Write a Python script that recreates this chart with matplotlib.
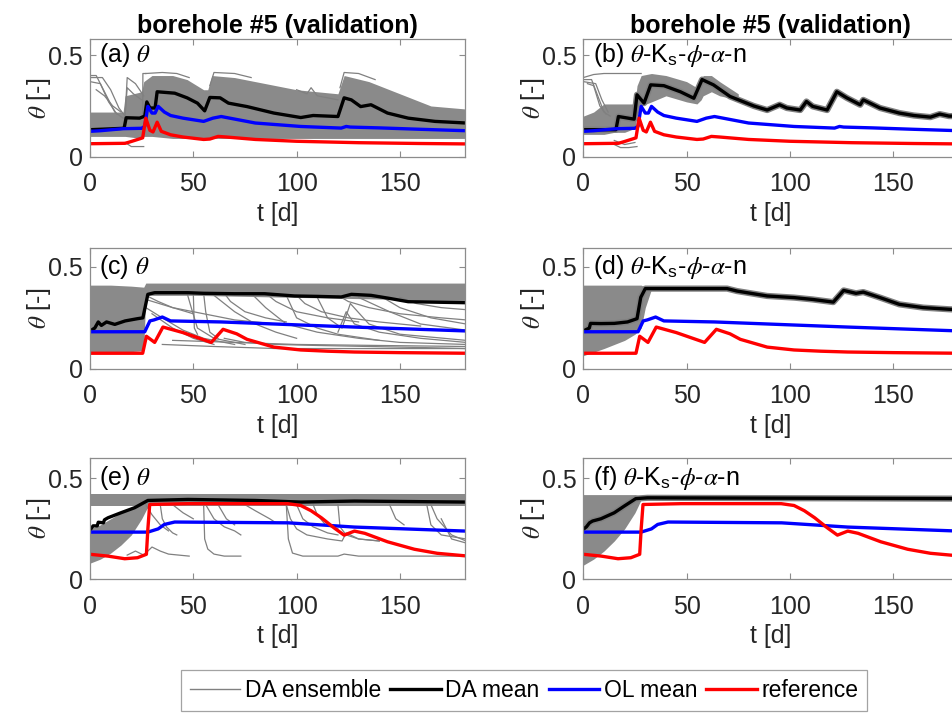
import numpy as np
import matplotlib
matplotlib.use('Agg')
import matplotlib.pyplot as plt

plt.rcParams['font.family'] = ['Liberation Sans', 'DejaVu Sans']
plt.rcParams['mathtext.fontset'] = 'stix'

# ---------------- row 1 (shared reference / open loop) ----------------
t_ref1 = [0, 17, 20, 24, 25.5, 27, 29, 30.5, 32.5, 34.5, 39, 45, 55, 58, 62, 66, 80, 100, 130, 160, 182]
ref1 = [0.064, 0.066, 0.075, 0.088, 0.093, 0.19, 0.13, 0.122, 0.17, 0.125, 0.108, 0.097, 0.085, 0.087, 0.1, 0.097, 0.085, 0.076, 0.069, 0.065, 0.063]
t_ol1 = [0, 5, 16, 25, 26.5, 28, 30, 31.5, 33, 36, 39, 45, 55, 59.5, 63.5, 80, 102, 121.6, 124, 126, 140, 160, 182]
ol1 = [0.125, 0.128, 0.138, 0.14, 0.15, 0.248, 0.215, 0.215, 0.248, 0.22, 0.203, 0.19, 0.174, 0.19, 0.198, 0.166, 0.149, 0.141, 0.149, 0.146, 0.142, 0.135, 0.128]

# panel (a)
t_da_a = [0, 16.5, 17.5, 24, 26.5, 27.5, 29, 31.5, 32.5, 41, 47, 52, 55.5, 58, 63, 67, 76, 89, 102, 108, 120, 123, 126.5, 131, 136, 144, 154, 167, 182]
da_a = [0.133, 0.14, 0.192, 0.19, 0.2, 0.27, 0.24, 0.24, 0.32, 0.313, 0.29, 0.264, 0.226, 0.292, 0.29, 0.264, 0.247, 0.215, 0.193, 0.203, 0.198, 0.29, 0.28, 0.247, 0.256, 0.215, 0.19, 0.174, 0.166]
band_a_t = [0, 16, 17, 25, 26, 30, 40, 47, 55, 57, 59, 70, 80, 100, 110, 120, 121, 123, 135, 150, 165, 182]
band_a_hi = [0.22, 0.22, 0.30, 0.32, 0.37, 0.40, 0.40, 0.38, 0.33, 0.33, 0.40, 0.39, 0.37, 0.33, 0.32, 0.31, 0.34, 0.40, 0.37, 0.31, 0.25, 0.235]
band_a_lo = [0.10, 0.10, 0.10, 0.09, 0.10, 0.10, 0.09, 0.09, 0.09, 0.09, 0.09, 0.09, 0.09, 0.09, 0.09, 0.09, 0.09, 0.09, 0.09, 0.09, 0.09, 0.09]
ens_a = [
    ([0, 6, 10, 14, 17], [0.39, 0.39, 0.33, 0.24, 0.2]),
    ([0, 3, 8, 12, 16], [0.40, 0.40, 0.30, 0.22, 0.19]),
    ([0, 5, 9, 13], [0.37, 0.36, 0.27, 0.21]),
    ([3, 7, 11, 15], [0.33, 0.3, 0.25, 0.22]),
    ([17, 18, 22, 26], [0.2, 0.39, 0.36, 0.30]),
    ([17, 18, 21, 25], [0.21, 0.34, 0.31, 0.28]),
    ([17, 20, 26], [0.07, 0.05, 0.05]),
    ([25.5, 25.6, 27], [0.2, 0.41, 0.41]),
    ([27, 35, 42, 48], [0.41, 0.415, 0.41, 0.39]),
    ([58, 60, 70, 78], [0.35, 0.415, 0.41, 0.39]),
    ([100, 105, 107, 110, 120], [0.33, 0.31, 0.34, 0.30, 0.28]),
    ([121, 123, 130, 138], [0.34, 0.415, 0.41, 0.38]),
]

# panel (b)
t_da_b = [0, 15.8, 17, 24.6, 26, 29.4, 32.6, 39, 47, 53.5, 57.5, 63, 71, 82.5, 89, 95, 98.5, 105, 108, 111, 118, 122.7, 127.5, 134, 135.5, 143.6, 153, 160, 168, 172.5, 177, 182]
da_b = [0.133, 0.133, 0.198, 0.185, 0.305, 0.264, 0.354, 0.35, 0.32, 0.288, 0.38, 0.354, 0.297, 0.25, 0.23, 0.256, 0.24, 0.23, 0.272, 0.248, 0.23, 0.32, 0.29, 0.256, 0.28, 0.24, 0.215, 0.203, 0.195, 0.21, 0.2, 0.2]
band_b_t = [0, 5, 10, 15, 20, 25, 26, 28, 33, 40, 50, 55, 57, 58, 62, 66, 75]
band_b_hi = [0.2, 0.22, 0.26, 0.26, 0.26, 0.26, 0.35, 0.40, 0.41, 0.40, 0.37, 0.34, 0.35, 0.40, 0.40, 0.37, 0.31]
band_b_lo = [0.11, 0.11, 0.11, 0.12, 0.12, 0.14, 0.2, 0.25, 0.27, 0.3, 0.27, 0.26, 0.28, 0.3, 0.32, 0.3, 0.28]
ens_b = [
    ([0, 5, 10, 28], [0.39, 0.405, 0.41, 0.41]),
    ([0, 4, 7, 10, 13], [0.38, 0.38, 0.3, 0.22, 0.2]),
    ([0, 6, 9, 12], [0.37, 0.36, 0.28, 0.22]),
    ([2, 5, 8, 11], [0.36, 0.35, 0.25, 0.21]),
    ([15, 18, 22, 26], [0.06, 0.045, 0.045, 0.05]),
    ([15, 20, 25], [0.08, 0.06, 0.07]),
]

# ---------------- row 2 ----------------
t_ref2 = [0, 25.5, 27.3, 31.3, 35.3, 45, 58.7, 64.4, 71, 76, 89, 102, 115, 128, 150, 182]
ref2 = [0.077, 0.077, 0.16, 0.13, 0.205, 0.178, 0.13, 0.194, 0.172, 0.145, 0.107, 0.093, 0.087, 0.083, 0.08, 0.077]
t_ol2 = [0, 26.5, 29, 31, 35, 39, 63.5, 102, 128, 182]
ol2 = [0.182, 0.182, 0.235, 0.24, 0.254, 0.235, 0.23, 0.215, 0.205, 0.186]

# panel (c)
t_da_c = [0, 2.3, 4, 5.5, 8, 12, 17, 23, 25.6, 28, 31.3, 47.4, 55, 70, 84.5, 99, 110, 121.6, 126.5, 136, 145, 154, 165, 182]
da_c = [0.186, 0.2, 0.23, 0.213, 0.23, 0.218, 0.235, 0.246, 0.25, 0.365, 0.373, 0.373, 0.37, 0.368, 0.368, 0.357, 0.355, 0.352, 0.365, 0.36, 0.345, 0.329, 0.327, 0.324]
band_c_t = [0, 10, 20, 26, 27, 50, 100, 150, 182]
band_c_hi = [0.41, 0.41, 0.405, 0.40, 0.42, 0.42, 0.42, 0.42, 0.42]
band_c_lo = [0.08, 0.08, 0.085, 0.09, 0.36, 0.36, 0.35, 0.34, 0.32]
ens_c = [
    ([27, 35, 45, 55, 70], [0.30, 0.25, 0.19, 0.15, 0.12]),
    ([30, 40, 50, 60], [0.27, 0.2, 0.15, 0.12]),
    ([47, 49, 52, 60, 75], [0.37, 0.30, 0.2, 0.15, 0.12]),
    ([55, 56, 58, 62], [0.37, 0.28, 0.18, 0.15]),
    ([60, 70, 80, 90, 100], [0.36, 0.28, 0.22, 0.18, 0.15]),
    ([78, 85, 95, 110, 130, 150, 182], [0.37, 0.3, 0.22, 0.18, 0.15, 0.13, 0.12]),
    ([95, 100, 110, 120, 140], [0.36, 0.25, 0.2, 0.17, 0.14]),
    ([110, 115, 122, 126, 135, 150, 182], [0.35, 0.25, 0.2, 0.32, 0.22, 0.17, 0.14]),
    ([120, 124, 128, 140, 160, 182], [0.18, 0.28, 0.22, 0.18, 0.15, 0.13]),
    ([130, 145, 160, 182], [0.35, 0.28, 0.22, 0.19]),
    ([140, 150, 165, 182], [0.36, 0.3, 0.25, 0.22]),
    ([35, 60, 90, 120, 150, 182], [0.12, 0.11, 0.1, 0.1, 0.1, 0.1]),
    ([40, 70, 100, 140, 182], [0.14, 0.13, 0.12, 0.115, 0.11]),
    ([27, 40, 55, 70, 90], [0.34, 0.3, 0.27, 0.24, 0.22]),
    ([50, 50.5, 52], [0.37, 0.2, 0.17]),
    ([27, 33, 40, 50], [0.36, 0.33, 0.3, 0.27]),
    ([65, 68, 75, 85, 95], [0.37, 0.33, 0.28, 0.25, 0.23]),
    ([85, 90, 100, 115, 130], [0.37, 0.33, 0.28, 0.25, 0.23]),
    ([100, 104, 112, 125, 140, 160], [0.36, 0.32, 0.28, 0.25, 0.23, 0.21]),
    ([120, 125, 135, 150, 170, 182], [0.36, 0.33, 0.3, 0.27, 0.25, 0.24]),
    ([150, 158, 170, 182], [0.35, 0.32, 0.3, 0.29]),
    ([65, 75, 90, 110, 135, 160, 182], [0.15, 0.13, 0.12, 0.115, 0.11, 0.105, 0.1]),
]

# panel (d)
t_da_d = [0, 2.9, 3.5, 8.5, 15, 21.4, 26, 27.8, 30, 47, 69.6, 74.4, 89, 102, 111, 121, 126, 132, 135.5, 143.6, 153, 164.5, 177, 182]
da_d = [0.186, 0.2, 0.223, 0.222, 0.223, 0.23, 0.246, 0.35, 0.393, 0.393, 0.393, 0.381, 0.357, 0.349, 0.34, 0.327, 0.384, 0.37, 0.376, 0.349, 0.316, 0.3, 0.292, 0.29]
band_d_t = [0, 10, 20, 25, 28, 30, 33]
band_d_hi = [0.41, 0.41, 0.41, 0.41, 0.41, 0.40, 0.395]
band_d_lo = [0.065, 0.1, 0.14, 0.17, 0.2, 0.3, 0.39]
ens_d = []

# ---------------- row 3 ----------------
t_ref3 = [0, 8.7, 16.8, 23, 27.3, 28, 28.9, 47.4, 95.8, 102, 107, 112, 118, 123, 128, 133, 144, 157, 168, 182]
ref3 = [0.124, 0.115, 0.102, 0.107, 0.124, 0.248, 0.371, 0.375, 0.375, 0.366, 0.34, 0.305, 0.256, 0.219, 0.239, 0.228, 0.186, 0.149, 0.129, 0.116]
t_ol3 = [0, 28, 33, 36, 41, 96, 128, 182]
ol3 = [0.234, 0.234, 0.25, 0.272, 0.284, 0.28, 0.259, 0.239]

# panel (e)
t_da_e = [0, 1.5, 3.5, 4, 6.5, 7, 8.7, 15, 21.6, 28, 47.4, 80, 102, 128, 182]
da_e = [0.244, 0.265, 0.265, 0.283, 0.28, 0.295, 0.305, 0.33, 0.355, 0.391, 0.396, 0.391, 0.383, 0.388, 0.383]
band_e_t = [0, 182]
band_e_hi = [0.421, 0.421]
band_e_lo = [0.363, 0.363]
fan_e_t = [0, 5, 10, 15, 20, 25, 28]
fan_e_hi = [0.25, 0.27, 0.30, 0.33, 0.35, 0.37, 0.39]
fan_e_lo = [0.08, 0.10, 0.13, 0.17, 0.22, 0.30, 0.36]
ens_e = [
    ([18, 22, 26, 30, 34, 38, 48], [0.12, 0.14, 0.12, 0.16, 0.14, 0.125, 0.115]),
    ([34, 35, 37, 40, 42], [0.37, 0.3, 0.26, 0.23, 0.22]),
    ([27, 30, 34, 38], [0.37, 0.32, 0.27, 0.24]),
    ([55, 55.5, 57, 60, 65, 73], [0.37, 0.2, 0.15, 0.125, 0.115, 0.115]),
    ([56, 60, 65, 70, 73], [0.37, 0.3, 0.26, 0.24, 0.22]),
    ([62, 66, 70], [0.37, 0.3, 0.27]),
    ([95, 96, 98, 103, 110, 120, 123, 130, 150, 182], [0.37, 0.2, 0.13, 0.115, 0.115, 0.115, 0.125, 0.115, 0.115, 0.115]),
    ([95, 97, 100, 105, 115, 122, 124, 130, 140], [0.37, 0.3, 0.25, 0.22, 0.2, 0.19, 0.23, 0.2, 0.19]),
    ([100, 103, 108, 115, 120], [0.37, 0.3, 0.26, 0.23, 0.22]),
    ([108, 110, 114, 120], [0.37, 0.32, 0.27, 0.25]),
    ([120, 121, 124, 130, 140], [0.37, 0.26, 0.22, 0.2, 0.19]),
    ([145, 148, 152], [0.37, 0.3, 0.27]),
    ([163, 165, 170, 182], [0.37, 0.27, 0.22, 0.2]),
    ([165, 168, 175, 182], [0.37, 0.3, 0.22, 0.19]),
    ([170, 175, 182], [0.3, 0.2, 0.18]),
    ([40, 45, 50], [0.37, 0.33, 0.3]),
    ([75, 80, 87, 90], [0.37, 0.34, 0.3, 0.28]),
]

# panel (f)
t_da_f = [0, 1.5, 3, 4.5, 8.5, 15, 19.8, 25.4, 31, 182]
da_f = [0.248, 0.26, 0.28, 0.289, 0.3, 0.33, 0.363, 0.4, 0.404, 0.4]
band_f_t = [0, 5, 10, 15, 20, 25, 28]
band_f_hi = [0.42, 0.42, 0.42, 0.42, 0.42, 0.42, 0.41]
band_f_lo = [0.07, 0.10, 0.14, 0.19, 0.25, 0.33, 0.395]
ens_f = []

labels = ['(a) $\\theta$', '(b) $\\theta$-K$_{\\mathregular{s}}$-$\\phi$-$\\alpha$-n',
          '(c) $\\theta$', '(d) $\\theta$-K$_{\\mathregular{s}}$-$\\phi$-$\\alpha$-n',
          '(e) $\\theta$', '(f) $\\theta$-K$_{\\mathregular{s}}$-$\\phi$-$\\alpha$-n']

GRAY = '#808080'
TXT = '#262626'
FS = 18

fig = plt.figure(figsize=(9.52, 7.18), dpi=100)
W, H = 952, 718

# axes boxes in pixels
lefts = [90, 583.3]
rows = [(39, 156.7), (248.3, 369), (458.3, 579.3)]
ytops = [0.58, 0.59, 0.6]

panels = [
    (t_da_a, da_a, [(band_a_t, band_a_lo, band_a_hi)], ens_a, False),
    (t_da_b, da_b, [(band_b_t, band_b_lo, band_b_hi)], ens_b, True),
    (t_da_c, da_c, [(band_c_t, band_c_lo, band_c_hi)], ens_c, False),
    (t_da_d, da_d, [(band_d_t, band_d_lo, band_d_hi)], ens_d, True),
    (t_da_e, da_e, [(band_e_t, band_e_lo, band_e_hi), (fan_e_t, fan_e_lo, fan_e_hi)], ens_e, False),
    (t_da_f, da_f, [(band_f_t, band_f_lo, band_f_hi)], ens_f, True),
]
refs = [(t_ref1, ref1, t_ol1, ol1), (t_ref2, ref2, t_ol2, ol2), (t_ref3, ref3, t_ol3, ol3)]

for i, (td, da, bands, ens, halo) in enumerate(panels):
    r, c = divmod(i, 2)
    top, bot = rows[r]
    ax = fig.add_axes([lefts[c] / W, 1 - bot / H, 375 / W, (bot - top) / H])
    for bt, blo, bhi in bands:
        ax.fill_between(bt, blo, bhi, color='#8a8a8a', lw=0)
    for et, ev in ens:
        ax.plot(et, ev, color=GRAY, lw=0.9)
    if halo:
        ax.plot(td, da, color=GRAY, lw=4.5, solid_capstyle='butt')
    tr, rv, to, ov = refs[r]
    ax.plot(td, da, color='k', lw=2.4)
    ax.plot(to, ov, color='#0000ff', lw=2.4)
    ax.plot(tr, rv, color='#ff0000', lw=2.4)

    ax.set_xlim(0, 181.5)
    ax.set_ylim(0, ytops[r])
    ax.set_xticks([0, 50, 100, 150])
    ax.set_yticks([0, 0.5])
    ax.set_yticklabels(['0', '0.5'])
    ax.tick_params(direction='in', top=True, right=True, length=4, width=0.8,
                   colors='#8c8c8c', labelcolor=TXT, labelsize=FS)
    ax.tick_params(axis='x', pad=11)
    ax.tick_params(axis='y', pad=5)
    for s in ax.spines.values():
        s.set_color('#8c8c8c')
        s.set_linewidth(0.9)
    ax.set_xlabel('t [d]', fontsize=FS, color=TXT, labelpad=4)
    ax.set_ylabel('$\\theta$ [-]', fontsize=FS, color=TXT)
    ax.yaxis.set_label_coords(-0.098, 0.5)
    ax.text(4.5, 0.5, labels[i], fontsize=FS, color='k', va='center', ha='left')
    if r == 0:
        ax.set_title('borehole #5 (validation)', fontsize=FS, fontweight='bold', pad=4)

handles = [
    plt.Line2D([], [], color=GRAY, lw=1),
    plt.Line2D([], [], color='k', lw=2.4),
    plt.Line2D([], [], color='#0000ff', lw=2.4),
    plt.Line2D([], [], color='#ff0000', lw=2.4),
]
leg = fig.legend(handles, ['DA ensemble', 'DA mean', 'OL mean', 'reference'],
                 loc='upper center', bbox_to_anchor=(524 / W, 1 - 670 / H), ncol=4,
                 fontsize=16.5, frameon=True, fancybox=False, handlelength=2.2,
                 handletextpad=0.2, columnspacing=0.4, borderpad=0.4, borderaxespad=0)
leg.get_frame().set_edgecolor('#8c8c8c')
leg.get_frame().set_linewidth(0.9)

fig.savefig('out.png', dpi=100)
